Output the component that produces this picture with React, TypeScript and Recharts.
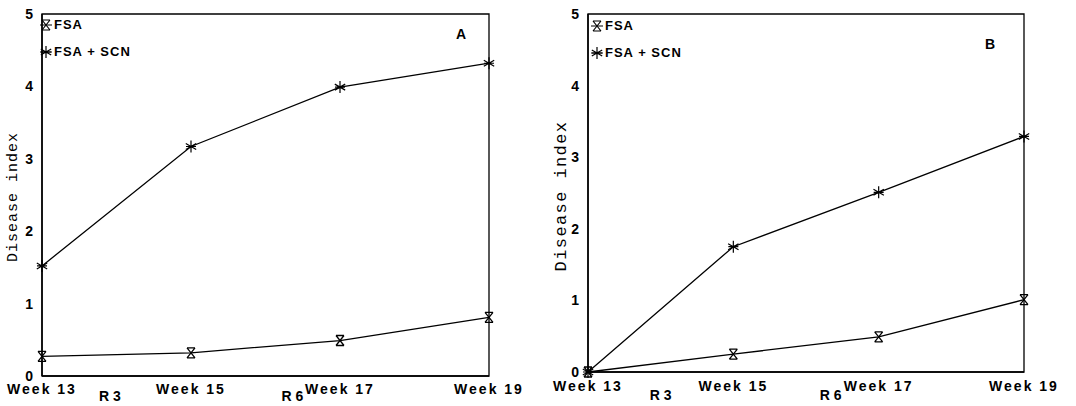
import React from "react";
import { LineChart, Line, XAxis, YAxis, ReferenceArea, ReferenceLine } from "recharts";

const weeks = [13, 15, 17, 19];
const weekLabels = ["Week 13", "Week 15", "Week 17", "Week 19"];
const seriesNames = ["FSA", "FSA + SCN"];
const fsaA = [0.27, 0.32, 0.49, 0.81];
const scnA = [1.52, 3.17, 3.99, 4.32];
const fsaB = [0.0, 0.25, 0.49, 1.01];
const scnB = [0.0, 1.75, 2.51, 3.29];
const yTicks = [0, 1, 2, 3, 4, 5];
const stageLabels = ["R 3", "R 6"];
const stageWeeksA = [13.91, 16.36];
const stageWeeksB = [14.0, 16.34];
const panelLabels = ["A", "B"];

const SANS = "'Liberation Sans', Arial, Helvetica, sans-serif";
const MONO = "'Liberation Mono', 'DejaVu Sans Mono', monospace";

const hourglassPath = (cx: number, cy: number) =>
  `M${cx - 4},${cy - 5}H${cx + 4}M${cx - 4},${cy + 5}H${cx + 4}M${cx - 4},${cy - 5}L${cx + 4},${cy + 5}M${cx + 4},${cy - 5}L${cx - 4},${cy + 5}`;
const starPath = (cx: number, cy: number) =>
  `M${cx},${cy - 6}V${cy + 6}M${cx - 5.2},${cy - 3}L${cx + 5.2},${cy + 3}M${cx - 5.2},${cy + 3}L${cx + 5.2},${cy - 3}M${cx - 5},${cy}H${cx + 5}`;

const HourglassDot = (props: any) => {
  const { cx, cy, index } = props;
  return <path key={`h-${index}`} d={hourglassPath(cx, cy)} stroke="#000" strokeWidth={1.3} fill="none" />;
};
const StarDot = (props: any) => {
  const { cx, cy, index } = props;
  return <path key={`s-${index}`} d={starPath(cx, cy)} stroke="#000" strokeWidth={1.2} fill="none" />;
};

const buildData = (fsa: number[], scn: number[]) =>
  weeks.map((w, i) => ({ week: w, fsa: fsa[i], scn: scn[i] }));

type Pt = { x: number; y: number };
type PanelProps = {
  fsa: number[];
  scn: number[];
  stages: number[];
  stageDy: number;
  label: string;
  width: number;
  margin: { top: number; right: number; left: number; bottom: number };
  xAxisHeight: number;
  tickMargin: number;
  ylab: { x: number; y: number; size: number; spacing: number };
  panelPos: Pt;
  legendPos: Pt;
};

const Overlay = ({ label, panelPos, legendPos }: { label: string; panelPos: Pt; legendPos: Pt }) => (
  <div style={{ position: "absolute", left: 0, top: 0, width: 0, height: 0, fontFamily: SANS, fontWeight: "bold", fontSize: 13, color: "#000", pointerEvents: "none" }}>
    {seriesNames.map((n, i) => (
      <div key={n} style={{ position: "absolute", left: legendPos.x, top: legendPos.y + i * 27 - 7, height: 14, display: "flex", alignItems: "center", whiteSpace: "pre" }}>
        <svg width={13} height={14} style={{ display: "block" }}>
          <line x1={0} y1={7} x2={12} y2={7} stroke="#000" strokeWidth={1} />
          <path d={i === 0 ? hourglassPath(6, 7) : starPath(6, 7)} stroke="#000" strokeWidth={1.2} fill="none" />
        </svg>
        <span style={{ letterSpacing: 1, marginLeft: 1, lineHeight: "14px" }}>{n}</span>
      </div>
    ))}
    <div style={{ position: "absolute", left: panelPos.x, top: panelPos.y, fontSize: 14, lineHeight: "16px", transform: "translate(-50%, -50%)" }}>{label}</div>
  </div>
);

const Panel = ({ fsa, scn, stages, stageDy, label, width, margin, xAxisHeight, tickMargin, ylab, panelPos, legendPos }: PanelProps) => {
  const data = buildData(fsa, scn);
  return (
    <div style={{ position: "relative", width, height: 406 }}>
      <LineChart width={width} height={406} data={data} margin={margin}>
        <ReferenceArea x1={13} x2={19} y1={0} y2={5} fill="none" stroke="#000" strokeWidth={1.3} ifOverflow="visible" />
        <XAxis
          dataKey="week"
          type="number"
          domain={[13, 19]}
          ticks={weeks}
          tickFormatter={(v: number) => weekLabels[weeks.indexOf(v)] ?? ""}
          tickLine={false}
          axisLine={{ stroke: "#000", strokeWidth: 1.5 }}
          tick={{ fill: "#000", fontFamily: SANS, fontWeight: "bold", fontSize: 14, letterSpacing: 2 }}
          tickMargin={tickMargin}
          height={xAxisHeight}
          interval={0}
        />
        <YAxis
          type="number"
          domain={[0, 5]}
          ticks={yTicks}
          tickLine={false}
          axisLine={{ stroke: "#000", strokeWidth: 1.5 }}
          tick={{ fill: "#000", fontFamily: SANS, fontWeight: "bold", fontSize: 14 }}
          tickMargin={3}
          width={30}
          label={{
            content: () => (
              <text x={ylab.x} y={ylab.y} transform={`rotate(-90, ${ylab.x}, ${ylab.y})`} textAnchor="middle" dominantBaseline="central" fontFamily={MONO} fontSize={ylab.size} letterSpacing={ylab.spacing} fill="#000">
                Disease index
              </text>
            ),
          }}
        />
        {stages.map((w, i) => (
          <ReferenceLine
            key={stageLabels[i]}
            x={w}
            stroke="none"
            label={{
              content: (p: any) => {
                const vb = p.viewBox;
                return (
                  <text x={vb.x} y={vb.y + vb.height + stageDy} textAnchor="middle" dominantBaseline="central" fontFamily={SANS} fontWeight="bold" fontSize={14} fill="#000">
                    {stageLabels[i]}
                  </text>
                );
              },
            }}
          />
        ))}
        <Line dataKey="fsa" name={seriesNames[0]} stroke="#000" strokeWidth={1.3} dot={HourglassDot} isAnimationActive={false} />
        <Line dataKey="scn" name={seriesNames[1]} stroke="#000" strokeWidth={1.3} dot={StarDot} isAnimationActive={false} />
      </LineChart>
      <Overlay label={label} panelPos={panelPos} legendPos={legendPos} />
    </div>
  );
};

export default function App() {
  return (
    <div style={{ position: "absolute", left: 0, top: 0, width: 1076, height: 406, background: "#fff" }}>
      <div style={{ position: "absolute", left: 0, top: 0 }}>
        <Panel
          fsa={fsaA}
          scn={scnA}
          stages={stageWeeksA}
          stageDy={20}
          label={panelLabels[0]}
          width={540}
          margin={{ top: 14, right: 51, left: 12, bottom: 2 }}
          xAxisHeight={28}
          tickMargin={2}
          ylab={{ x: 13, y: 197, size: 15, spacing: 1 }}
          panelPos={{ x: 461, y: 34 }}
          legendPos={{ x: 40, y: 25 }}
        />
      </div>
      <div style={{ position: "absolute", left: 540, top: 0 }}>
        <Panel
          fsa={fsaB}
          scn={scnB}
          stages={stageWeeksB}
          stageDy={23}
          label={panelLabels[1]}
          width={536}
          margin={{ top: 14, right: 52, left: 18, bottom: 4 }}
          xAxisHeight={30}
          tickMargin={3}
          ylab={{ x: 21, y: 196, size: 17, spacing: 1.4 }}
          panelPos={{ x: 450, y: 44 }}
          legendPos={{ x: 51, y: 26 }}
        />
      </div>
    </div>
  );
}
